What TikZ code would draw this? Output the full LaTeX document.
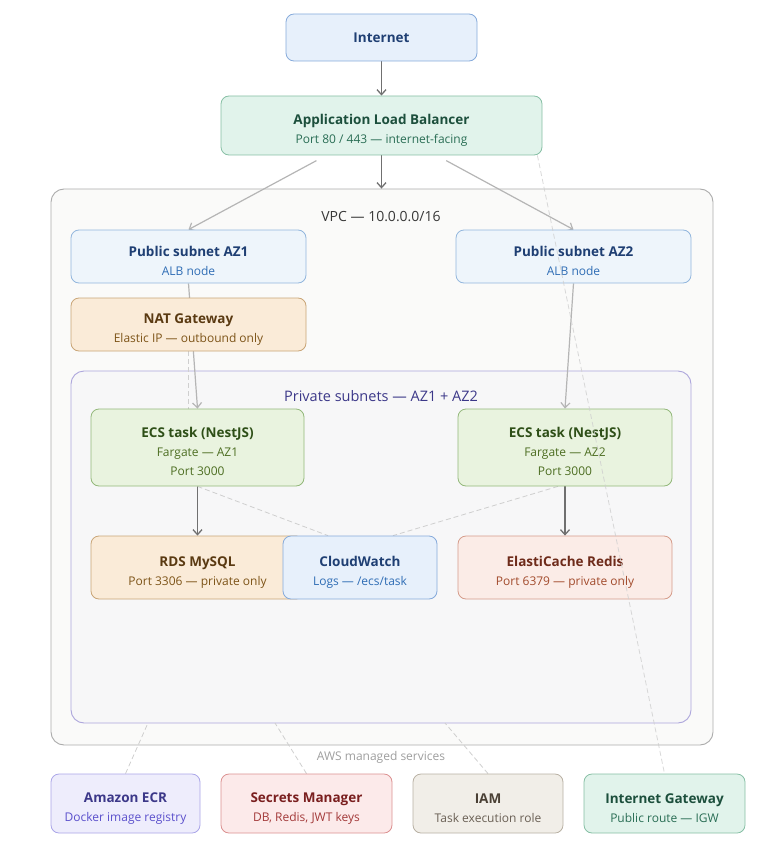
\documentclass[tikz,border=0pt]{standalone}
\usepackage{fontspec}
\setmainfont{Open Sans}
\usetikzlibrary{arrows.meta,positioning}

\definecolor{inetfill}{HTML}{E7F0FB}\definecolor{inetdraw}{HTML}{86AADB}\definecolor{inettext}{HTML}{1F3F73}
\definecolor{albfill}{HTML}{E1F3EB}\definecolor{albdraw}{HTML}{86BFA4}\definecolor{albtext}{HTML}{1C4F3C}\definecolor{albsub}{HTML}{2A6E55}
\definecolor{pubfill}{HTML}{EEF5FB}\definecolor{pubdraw}{HTML}{92B6DD}\definecolor{pubtext}{HTML}{1F3F73}\definecolor{pubsub}{HTML}{2F6DB5}
\definecolor{natfill}{HTML}{FAEBD8}\definecolor{natdraw}{HTML}{C9A577}\definecolor{nattext}{HTML}{5A3A12}\definecolor{natsub}{HTML}{7D5418}
\definecolor{ecsfill}{HTML}{E9F3DF}\definecolor{ecsdraw}{HTML}{93B87A}\definecolor{ecstext}{HTML}{2E4F17}\definecolor{ecssub}{HTML}{4D6E22}
\definecolor{redisfill}{HTML}{FBECE7}\definecolor{redisdraw}{HTML}{D59C8A}\definecolor{redistext}{HTML}{6E2B1A}\definecolor{redissub}{HTML}{A24B2C}
\definecolor{ecrfill}{HTML}{EEEDFC}\definecolor{ecrdraw}{HTML}{AAA5E8}\definecolor{ecrtext}{HTML}{3C3889}\definecolor{ecrsub}{HTML}{5B50CC}
\definecolor{secfill}{HTML}{FCEAEA}\definecolor{secdraw}{HTML}{DB9090}\definecolor{sectext}{HTML}{7A1F1F}\definecolor{secsub}{HTML}{A33A3A}
\definecolor{iamfill}{HTML}{F1EEE8}\definecolor{iamdraw}{HTML}{B8B0A3}\definecolor{iamtext}{HTML}{4A4035}\definecolor{iamsub}{HTML}{6A6055}
\definecolor{vpcfill}{HTML}{FAFAF9}\definecolor{vpcdraw}{HTML}{ABABAB}
\definecolor{privfill}{HTML}{F7F7F8}\definecolor{privdraw}{HTML}{ADA6DC}\definecolor{privtext}{HTML}{3C3889}
\definecolor{arrowdark}{HTML}{707070}\definecolor{arrowlight}{HTML}{B5B5B5}\definecolor{faintline}{HTML}{CFCFCF}

% title line carries a strut so two-line boxes sit a little low
\newcommand{\boxtitle}[1]{{\fontsize{13.5}{19}\selectfont\bfseries\rule{0pt}{19pt}#1}}
\newcommand{\boxnote}[2]{{\color{#1}#2}}

\pgfdeclarelayer{bg}\pgfdeclarelayer{edges}\pgfdeclarelayer{top}
\pgfsetlayers{bg,edges,main,top}

\tikzset{
  box/.style={rounded corners=8pt, draw, line width=0.8pt, align=center, inner sep=0pt,
    font=\fontsize{12}{19}\selectfont},
  tint/.style n args={3}{fill=#1, draw=#2, text=#3},
  group/.style={rounded corners=13pt, draw, line width=0.9pt, inner sep=0pt},
  darkarrow/.style={draw=arrowdark, line width=1.3pt, -{Straight Barb[length=5pt,width=9pt]}},
  lightarrow/.style={draw=arrowlight, line width=1.2pt, -{Straight Barb[length=5pt,width=9pt]}},
  faint/.style={draw=faintline, line width=0.8pt, dash pattern=on 5pt off 3pt}
}

\begin{document}
\begin{tikzpicture}[x=1pt,y=-1pt]
\useasboundingbox (0,0) rectangle (773,853);

\begin{pgfonlayer}{bg}
  \node[group, fill=vpcfill, draw=vpcdraw, minimum width=662pt, minimum height=556pt] (vpc) at (382,467) {};
  \node[group, fill=privfill, draw=privdraw, minimum width=620pt, minimum height=352pt] (priv) at (381,547) {};
\end{pgfonlayer}
\node[text=black!78, font=\fontsize{14}{16}\selectfont] (vpclbl) at (381,217) {VPC — 10.0.0.0/16};
\node[text=privtext, font=\fontsize{14.5}{16}\selectfont] (privlbl) at (381,396) {Private subnets — AZ1 + AZ2};
\node[text=black!38, font=\fontsize{12}{14}\selectfont] (awslbl) at (381,757) {AWS managed services};

\node[box, tint={inetfill}{inetdraw}{inettext}, minimum width=191pt, minimum height=47pt,
  font=\fontsize{13.5}{19}\selectfont\bfseries] (inet) at (381.5,37.5) {Internet};
\node[box, tint={albfill}{albdraw}{albtext}, minimum width=321pt, minimum height=59pt] (alb) at (381.5,125.5)
  {\boxtitle{Application Load Balancer}\\\boxnote{albsub}{Port 80 / 443 — internet-facing}};

\node[box, tint={pubfill}{pubdraw}{pubtext}, minimum width=235pt, minimum height=53pt] (pub1) at (188.5,256.5)
  {\boxtitle{Public subnet AZ1}\\\boxnote{pubsub}{ALB node}};
\node[box, tint={pubfill}{pubdraw}{pubtext}, minimum width=235pt, minimum height=53pt] (pub2) at (573.5,256.5)
  {\boxtitle{Public subnet AZ2}\\\boxnote{pubsub}{ALB node}};
\node[box, tint={natfill}{natdraw}{nattext}, minimum width=235pt, minimum height=53pt] (nat) at (188.5,324.5)
  {\boxtitle{NAT Gateway}\\\boxnote{natsub}{Elastic IP — outbound only}};

\node[box, tint={ecsfill}{ecsdraw}{ecstext}, minimum width=213pt, minimum height=77pt] (ecs1) at (197.5,447.5)
  {\boxtitle{ECS task (NestJS)}\\\boxnote{ecssub}{Fargate — AZ1}\\\boxnote{ecssub}{Port 3000}};
\node[box, tint={ecsfill}{ecsdraw}{ecstext}, minimum width=214pt, minimum height=77pt] (ecs2) at (565,447.5)
  {\boxtitle{ECS task (NestJS)}\\\boxnote{ecssub}{Fargate — AZ2}\\\boxnote{ecssub}{Port 3000}};

\node[box, tint={natfill}{natdraw}{nattext}, minimum width=213pt, minimum height=63pt] (rds) at (197.5,567.5)
  {\boxtitle{RDS MySQL}\\\boxnote{natsub}{Port 3306 — private only}};
\node[box, tint={inetfill}{inetdraw}{inettext}, minimum width=154pt, minimum height=63pt] (cw) at (360,567.5)
  {\boxtitle{CloudWatch}\\\boxnote{pubsub}{Logs — /ecs/task}};
\node[box, tint={redisfill}{redisdraw}{redistext}, minimum width=214pt, minimum height=63pt] (redis) at (565,567.5)
  {\boxtitle{ElastiCache Redis}\\\boxnote{redissub}{Port 6379 — private only}};

\node[box, tint={ecrfill}{ecrdraw}{ecrtext}, minimum width=149pt, minimum height=59pt] (ecr) at (125.5,803.5)
  {\boxtitle{Amazon ECR}\\\boxnote{ecrsub}{Docker image registry}};
\node[box, tint={secfill}{secdraw}{sectext}, minimum width=171pt, minimum height=59pt] (secrets) at (306.5,803.5)
  {\boxtitle{Secrets Manager}\\\boxnote{secsub}{DB, Redis, JWT keys}};
\node[box, tint={iamfill}{iamdraw}{iamtext}, minimum width=150pt, minimum height=59pt] (iam) at (488,803.5)
  {\boxtitle{IAM}\\\boxnote{iamsub}{Task execution role}};
\node[box, tint={albfill}{albdraw}{albtext}, minimum width=161pt, minimum height=59pt] (igw) at (664.5,803.5)
  {\boxtitle{Internet Gateway}\\\boxnote{albsub}{Public route — IGW}};

\coordinate (ecrhook) at (148,723);
\coordinate (sechook) at (275,723);
\coordinate (iamhook) at (445,723);

\begin{pgfonlayer}{edges}
  \draw[darkarrow] (inet) -- (alb);
  \draw[darkarrow] (alb) -- (alb |- vpc.north);
  \draw[lightarrow, shorten <=11pt] (alb) -- (pub1.north);
  \draw[lightarrow, shorten <=11pt] (alb) -- (pub2.north);
  \draw[lightarrow] (pub1.south) -- (ecs1.north);
  \draw[lightarrow] (pub2.south) -- (ecs2.north);
  \draw[darkarrow] (ecs1) -- (rds);
  \draw[darkarrow] (ecs2) -- (redis);
  \draw[faint] (nat.south) -- (nat.south |- ecs1.north);
  \draw[faint] (ecs1.south) -- ([xshift=-32pt]cw.north);
  \draw[faint] ([xshift=-7pt]ecs2.south) -- ([xshift=33pt]cw.north);
  \draw[faint] (ecr.north) -- (ecrhook);
  \draw[faint] (secrets.north) -- (sechook);
  \draw[faint] (iam.north) -- (iamhook);
\end{pgfonlayer}
\begin{pgfonlayer}{top}
  \draw[faint, opacity=0.8] ([xshift=-5pt]alb.south east) -- (igw.north);
\end{pgfonlayer}
\end{tikzpicture}
\end{document}
